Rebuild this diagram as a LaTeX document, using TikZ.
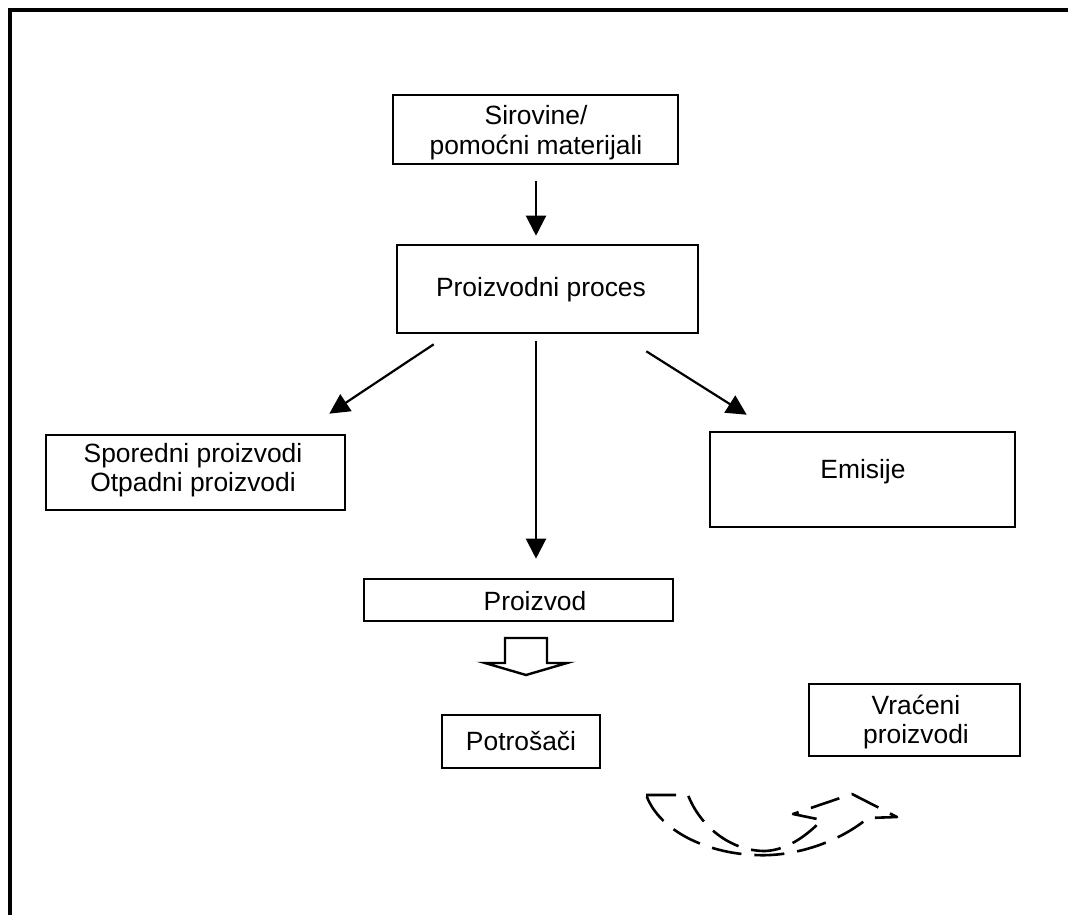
\documentclass[tikz,border=0pt]{standalone}
\usepackage{fontspec}
\setmainfont{Liberation Sans}
\usetikzlibrary{arrows.meta,calc}
\begin{document}
\begin{tikzpicture}[x=1pt,y=-1pt,
  txt/.style={inner sep=0pt,align=center,font=\fontsize{26.4}{29.5}\selectfont},
  box/.style={txt,draw,line width=2.6pt},
  arr/.style={line width=2.2pt,-{Triangle[width=20pt,length=20pt]}},
  hollow/.style={line width=2.4pt,line join=miter},
  dashline/.style={line width=2.6pt,dash pattern=on 30pt off 13pt,line join=round}]
\clip (0,0) rectangle (1068,914);
% page frame (only the top and left edges fall inside the page)
\draw[line width=3.5pt] (10,940) -- (10,10) -- (1100,10);

% boxes
\node[box,minimum width=285,minimum height=69] (sir) at (535.5,129.5) {};
\node[txt] (sirt) at (536,132.5) {Sirovine/\\pomoćni materijali};
\node[box,minimum width=301,minimum height=88] (proc) at (547.5,289) {};
\node[txt] (proct) at (541,290) {Proizvodni proces};
\node[box,minimum width=299,minimum height=75] (spo) at (195.5,472.5) {};
\node[txt] (spot) at (193,470) {Sporedni proizvodi\\Otpadni proizvodi};
\node[box,minimum width=305,minimum height=95] (emi) at (862.5,479.5) {};
\node[txt] (emit) at (863,472) {Emisije};
\node[box,minimum width=309,minimum height=42] (pro) at (518.5,600) {};
\node[txt] (prot) at (535,601) {Proizvod};
\node[box,minimum width=158,minimum height=53] (pot) at (521,741.5) {Potrošači};
\node[box,minimum width=211,minimum height=72] (vra) at (914.5,720) {};
\node[txt] (vrat) at (916,722) {Vraćeni\\proizvodi};

% flow arrows
\draw[arr] ($(sir.south)+(0.5,16)$) -- ($(proc.north)+(-11.5,-8)$);
\draw[arr] ($(proc.south)+(-11.5,7)$) -- ($(pro.north)+(17.5,-19)$);
\draw[arr] ($(proc.south west)+(38,10)$) -- ($(spo.north east)+(-17,-20)$);
\draw[arr] ($(proc.south east)+(-53,17)$) -- ($(emi.north west)+(38,-16)$);

% hollow block arrow from product to consumers
\draw[hollow] (505,638) -- (547,638) -- (547,663) -- (567,663) -- (526,675)
  -- (485,663) -- (505,663) -- cycle;

% dashed curved return arrow
\draw[dashline] (646,795) -- (688,795)
  .. controls (700,826) and (730,851) .. (765,851)
  .. controls (790,850) and (810,832) .. (822,820)
  -- (793,814) -- (852,794) -- (897,817) -- (868,818)
  .. controls (835,845) and (790,857) .. (755,855)
  .. controls (705,853) and (660,830) .. (647,797) -- cycle;
\end{tikzpicture}
\end{document}
